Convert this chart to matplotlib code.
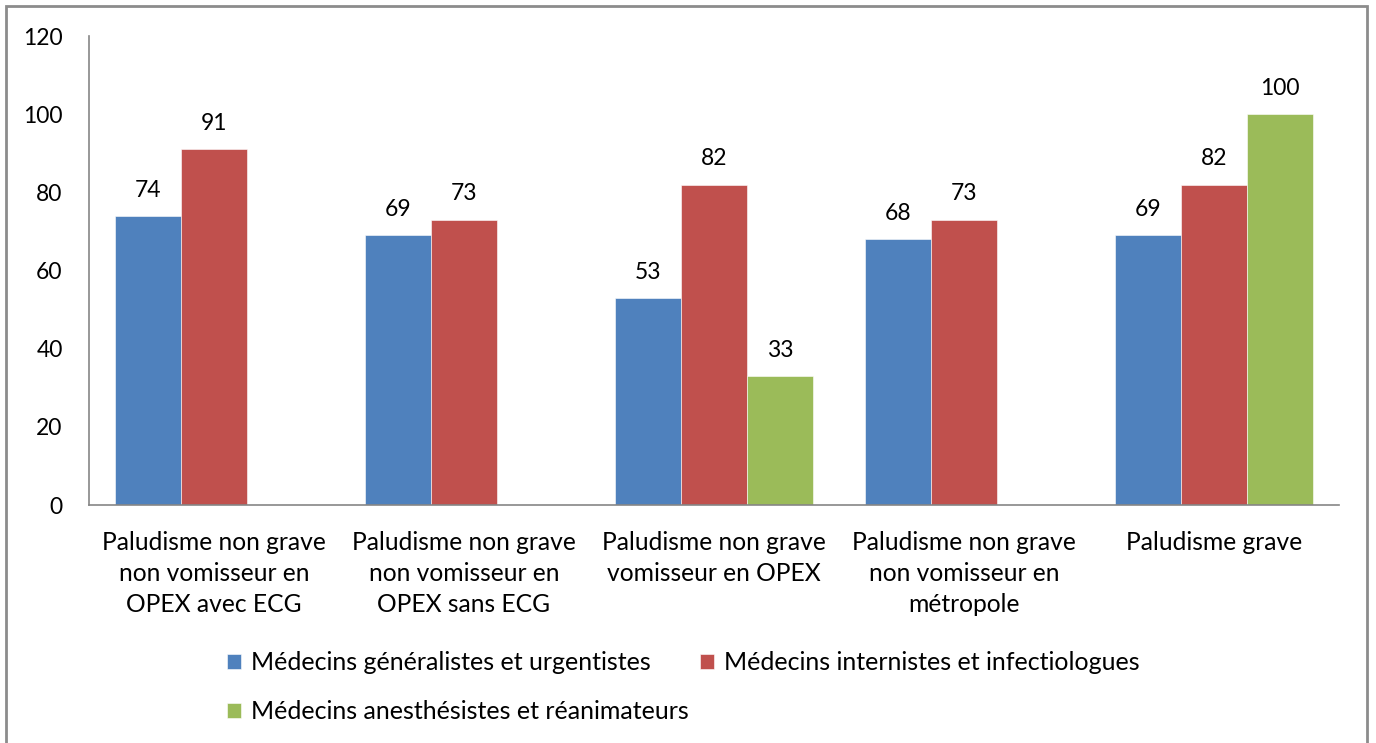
import matplotlib.pyplot as plt
import numpy as np
import matplotlib.patches as mpatches

plt.rcParams['font.family'] = ['Lato', 'DejaVu Sans']

categories = [
    "Paludisme non grave\nnon vomisseur en\nOPEX avec ECG",
    "Paludisme non grave\nnon vomisseur en\nOPEX sans ECG",
    "Paludisme non grave\nvomisseur en OPEX",
    "Paludisme non grave\nnon vomisseur en\nmétropole",
    "Paludisme grave",
]
series_names = [
    "Médecins généralistes et urgentistes",
    "Médecins internistes et infectiologues",
    "Médecins anesthésistes et réanimateurs",
]
generalistes = [74, 69, 53, 68, 69]
internistes = [91, 73, 82, 73, 82]
anesthesistes = [None, None, 33, None, 100]

colors = ["#4F81BD", "#C0504D", "#9BBB59"]

fig = plt.figure(figsize=(13.76, 7.43), dpi=100)
ax = fig.add_axes([0.0647, 0.3203, 0.9083, 0.6312])

x = np.arange(len(categories))
w = 0.264
handles = []
for i, (vals, col, name) in enumerate(zip([generalistes, internistes, anesthesistes], colors, series_names)):
    xs = [xi + (i - 1) * w for xi, v in zip(x, vals) if v is not None]
    ys = [v for v in vals if v is not None]
    bars = ax.bar(xs, ys, width=w, color=col, edgecolor="white", linewidth=0.4, label=name)
    handles.append(bars)
    for b, v in zip(bars, ys):
        ax.annotate(str(v), (b.get_x() + b.get_width() / 2, v), xytext=(0, 11),
                    textcoords="offset points", ha="center", va="bottom", fontsize=16.5)

ax.set_xlim(-0.5, 4.5)
ax.set_ylim(0, 120)
ax.set_yticks(range(0, 121, 20))
ax.set_xticks(x)
ax.set_xticklabels(categories, fontsize=17.7, linespacing=1.42)
ax.tick_params(axis="y", length=0, pad=19, labelsize=16.5)
ax.tick_params(axis="x", length=0, pad=19)
for s in ["top", "right"]:
    ax.spines[s].set_visible(False)
for s in ["left", "bottom"]:
    ax.spines[s].set_color("#868686")
    ax.spines[s].set_linewidth(1.2)

# legend: columns [blue, green] and [red]
leg = fig.legend([handles[0], handles[2], handles[1]],
                 [series_names[0], series_names[2], series_names[1]],
                 ncol=2, loc="upper left", bbox_to_anchor=(0.158, 0.137),
                 frameon=False, fontsize=18, handlelength=0.55, handleheight=0.55,
                 handletextpad=0.4, columnspacing=0.45, labelspacing=1.05,
                 borderaxespad=0)

# outer frame
frame = mpatches.Rectangle((0.0044, -0.05), 0.9891, 1.042, transform=fig.transFigure,
                           fill=False, edgecolor="#8C8C8C", linewidth=2)
fig.patches.append(frame)

fig.savefig("out.png", dpi=100)
